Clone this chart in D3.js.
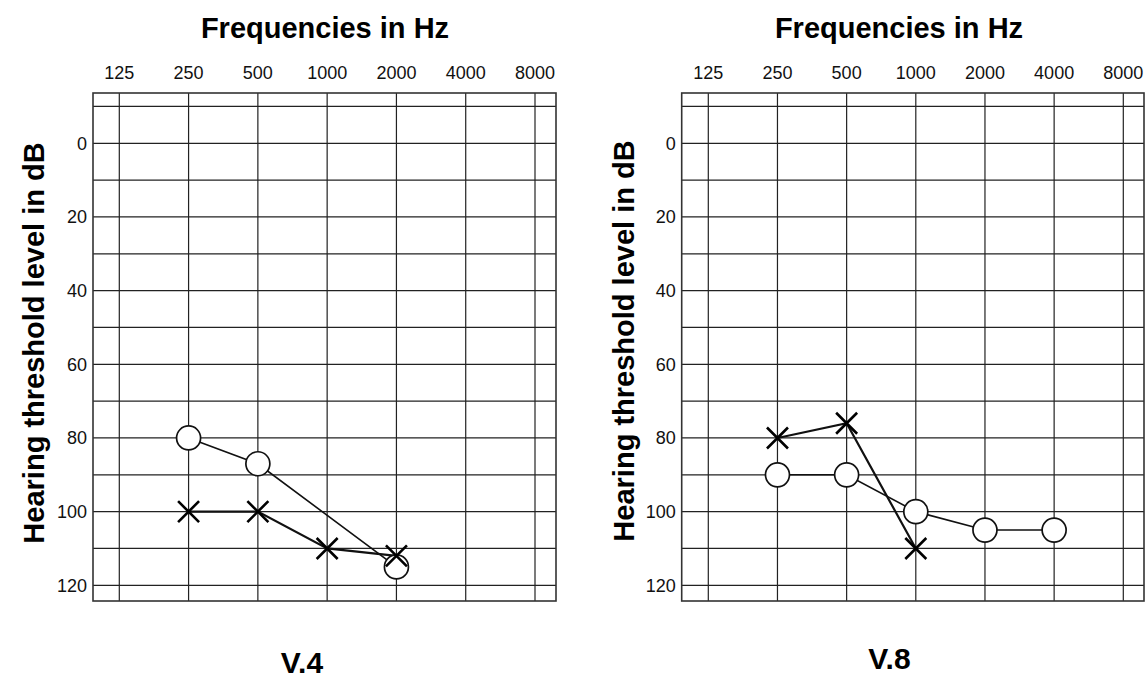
<!DOCTYPE html>
<html>
<head>
<meta charset="utf-8">
<script src="https://cdn.jsdelivr.net/npm/d3@7"></script>
<style>
  html, body { margin: 0; padding: 0; background: #fff; }
  svg { display: block; font-family: "Liberation Sans", Arial, sans-serif; }
</style>
</head>
<body>
<svg id="chart" width="1146" height="679"></svg>
<script>
// ---------- data ----------
const frequencies = [125, 250, 500, 1000, 2000, 4000, 8000];
const freqLabels = ["125", "250", "500", "1000", "2000", "4000", "8000"];
const dbTicks = [0, 20, 40, 60, 80, 100, 120];
const dbGrid = [-10, 0, 10, 20, 30, 40, 50, 60, 70, 80, 90, 100, 110, 120];

const v4CircleFreq = [250, 500, 2000];
const v4CircleDb = [80, 87, 115];
const v4CrossFreq = [250, 500, 1000, 2000];
const v4CrossDb = [100, 100, 110, 112];

const v8CrossFreq = [250, 500, 1000];
const v8CrossDb = [80, 76, 110];
const v8CircleFreq = [250, 500, 1000, 2000, 4000];
const v8CircleDb = [90, 90, 100, 105, 105];

const panelNames = ["V.4", "V.8"];
const xTitle = "Frequencies in Hz";
const yTitle = "Hearing threshold level in dB";

// ---------- drawing ----------
const svg = d3.select("#chart");

function drawPanel(opt) {
  const g = svg.append("g");
  const x = d3.scaleLog().base(2).domain([125, 8000]).range([opt.x125, opt.x8000]);
  const y = d3.scaleLinear().domain([0, 120]).range([143.3, 585.3]);
  const left = opt.frameLeft, right = opt.frameRight, top = 93, bottom = 601;

  // horizontal grid
  g.selectAll("line.h").data(dbGrid).enter().append("line")
    .attr("x1", left).attr("x2", right)
    .attr("y1", d => y(d)).attr("y2", d => y(d))
    .attr("stroke", "#222").attr("stroke-width", 1.2);
  // vertical grid
  g.selectAll("line.v").data(frequencies).enter().append("line")
    .attr("y1", top).attr("y2", bottom)
    .attr("x1", d => x(d)).attr("x2", d => x(d))
    .attr("stroke", "#222").attr("stroke-width", 1.2);
  // frame
  g.append("rect").attr("x", left).attr("y", top)
    .attr("width", right - left).attr("height", bottom - top)
    .attr("fill", "none").attr("stroke", "#333").attr("stroke-width", 1.6);

  // top axis labels
  g.selectAll("text.f").data(frequencies).enter().append("text")
    .attr("x", d => x(d)).attr("y", 79)
    .attr("text-anchor", "middle").attr("font-size", 18).attr("fill", "#111")
    .text((d, i) => freqLabels[i]);
  // left axis labels
  g.selectAll("text.d").data(dbTicks).enter().append("text")
    .attr("x", left - 6).attr("y", d => y(d) + 6.5)
    .attr("text-anchor", "end").attr("font-size", 18).attr("fill", "#111")
    .text(d => d);

  // titles
  g.append("text").attr("x", opt.titleX).attr("y", 38)
    .attr("text-anchor", "middle").attr("font-size", 29).attr("font-weight", "bold")
    .text(xTitle);
  g.append("text")
    .attr("transform", `translate(${opt.yTitleX},${opt.yTitleY}) rotate(-90)`)
    .attr("text-anchor", "middle").attr("font-size", 29).attr("font-weight", "bold")
    .text(yTitle);
  g.append("text").attr("x", opt.nameX).attr("y", opt.nameY)
    .attr("text-anchor", "middle").attr("font-size", 30).attr("font-weight", "bold")
    .text(opt.name);

  const line = d3.line().x(d => x(d[0])).y(d => y(d[1]));

  const cData = opt.circleFreq.map((f, i) => [f, opt.circleDb[i]]);
  const xData = opt.crossFreq.map((f, i) => [f, opt.crossDb[i]]);

  g.append("path").datum(cData).attr("d", line)
    .attr("fill", "none").attr("stroke", "#111").attr("stroke-width", 1.6);
  g.append("path").datum(xData).attr("d", line)
    .attr("fill", "none").attr("stroke", "#111").attr("stroke-width", 2.2);

  g.selectAll("circle.m").data(cData).enter().append("circle")
    .attr("cx", d => x(d[0])).attr("cy", d => y(d[1])).attr("r", 12)
    .attr("fill", "#fff").attr("stroke", "#111").attr("stroke-width", 1.7);

  const s = 10.5;
  g.selectAll("path.x").data(xData).enter().append("path")
    .attr("d", d => {
      const cx = x(d[0]), cy = y(d[1]);
      return `M${cx - s},${cy - s}L${cx + s},${cy + s}M${cx - s},${cy + s}L${cx + s},${cy - s}`;
    })
    .attr("fill", "none").attr("stroke", "#000").attr("stroke-width", 2.6);
}

drawPanel({
  x125: 119.3, x8000: 535, frameLeft: 93, frameRight: 556,
  titleX: 325, yTitleX: 44, yTitleY: 343, nameX: 302, nameY: 673,
  name: panelNames[0],
  circleFreq: v4CircleFreq, circleDb: v4CircleDb,
  crossFreq: v4CrossFreq, crossDb: v4CrossDb
});
drawPanel({
  x125: 708.3, x8000: 1123.3, frameLeft: 681.7, frameRight: 1144,
  titleX: 899, yTitleX: 634, yTitleY: 341, nameX: 889.5, nameY: 669,
  name: panelNames[1],
  circleFreq: v8CircleFreq, circleDb: v8CircleDb,
  crossFreq: v8CrossFreq, crossDb: v8CrossDb
});
</script>
</body>
</html>
